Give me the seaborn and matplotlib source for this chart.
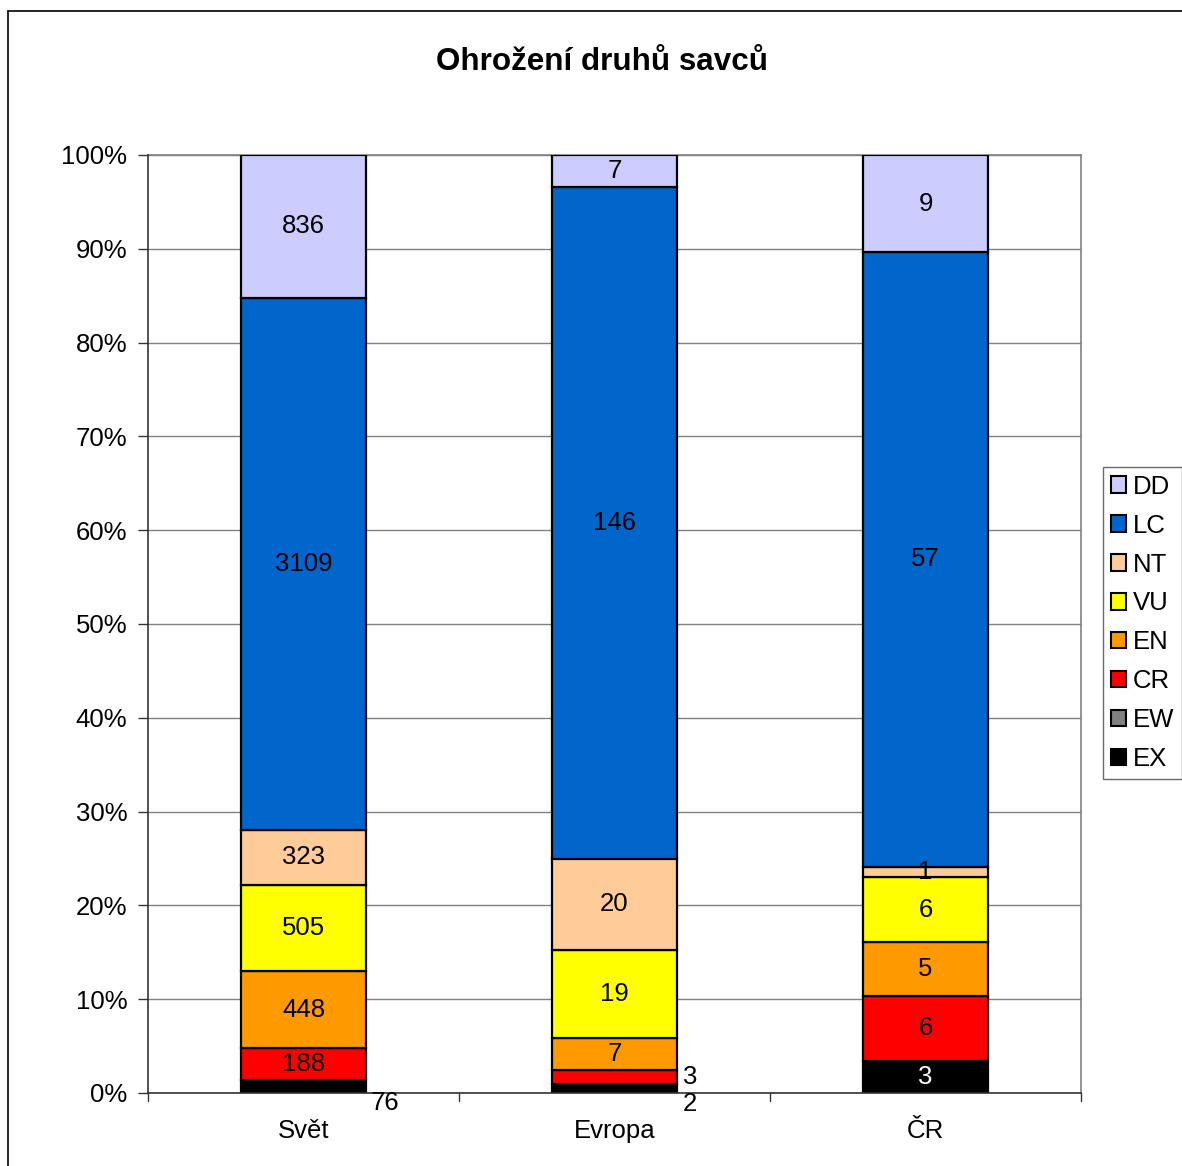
import matplotlib
matplotlib.use("Agg")
import matplotlib.pyplot as plt
from matplotlib.patches import Rectangle
from matplotlib.lines import Line2D
import seaborn as sns
import numpy as np
import pandas as pd

categories = ["Svět", "Evropa", "ČR"]
series_names = ["EX", "EW", "CR", "EN", "VU", "NT", "LC", "DD"]
EX = [76, 2, 3]
EW = [0, 0, 0]
CR = [188, 3, 6]
EN = [448, 7, 5]
VU = [505, 19, 6]
NT = [323, 20, 1]
LC = [3109, 146, 57]
DD = [836, 7, 9]
colors = {"EX": "#000000", "EW": "#808080", "CR": "#FF0000", "EN": "#FF9900",
          "VU": "#FFFF00", "NT": "#FFCC99", "LC": "#0066CC", "DD": "#CCCCFF"}
title = "Ohrožení druhů savců"
yticks = [0, 0.1, 0.2, 0.3, 0.4, 0.5, 0.6, 0.7, 0.8, 0.9, 1.0]

sns.set_theme(style="white")
plt.rcParams['font.family'] = ['Liberation Sans', 'DejaVu Sans']
plt.rcParams['text.color'] = 'black'
plt.rcParams['xtick.color'] = 'black'
plt.rcParams['ytick.color'] = 'black'

FS = 18.5

values = {"EX": EX, "EW": EW, "CR": CR, "EN": EN, "VU": VU, "NT": NT, "LC": LC, "DD": DD}
totals = np.sum([values[s] for s in series_names], axis=0)

fig = plt.figure(figsize=(11.82, 11.66), dpi=100)
ax = fig.add_axes([148/1182, 1 - 1093/1166, (1081-148)/1182, (1093-155)/1166])

bottom = np.zeros(len(categories))
for s in series_names:
    frac = np.array(values[s]) / totals
    df = pd.DataFrame({"cat": categories, "val": frac})
    sns.barplot(data=df, x="cat", y="val", ax=ax, color=colors[s], width=0.4,
                bottom=bottom, edgecolor="black", linewidth=1.6, saturation=1,
                zorder=3, errorbar=None)
    for i, v in enumerate(values[s]):
        if v == 0:
            continue
        yc = bottom[i] + frac[i] / 2
        txt_color = "white" if s == "EX" else "black"
        x = i
        if (s == "EX" and categories[i] in ("Svět", "Evropa")) or (s == "CR" and categories[i] == "Evropa"):
            x = i + 0.262 if categories[i] == "Svět" else i + 0.243
            yc = -0.011 if s == "EX" else 0.017
            if categories[i] == "Evropa" and s == "EX":
                yc = -0.012
            txt_color = "black"
        ax.text(x, yc, str(v), ha="center", va="center", fontsize=FS,
                color=txt_color, zorder=5, clip_on=False)
    bottom = bottom + frac

ax.set_xlim(-0.5, 2.5)
ax.set_ylim(0, 1)
ax.set_yticks(yticks)
ax.set_yticklabels([f"{int(round(t*100))}%" for t in yticks], fontsize=FS)
ax.set_xticks([0, 1, 2])
ax.set_xticklabels(categories, fontsize=FS)
ax.tick_params(axis="x", length=0, pad=19)
ax.tick_params(axis="y", length=7, width=1, color="#333333", left=True, direction="out", pad=8)
ax.set_xlabel("")
ax.set_ylabel("")
for b in [-0.5, 0.5, 1.5, 2.5]:
    ax.plot([b, b], [0, -0.008], color="#333333", lw=1, clip_on=False, zorder=4)
ax.yaxis.grid(True, color="#808080", linewidth=1, zorder=0)
ax.set_axisbelow(True)
for side in ["top", "right"]:
    ax.spines[side].set_visible(True)
    ax.spines[side].set_color("#808080")
    ax.spines[side].set_linewidth(1.2)
for side in ["left", "bottom"]:
    ax.spines[side].set_color("#333333")
    ax.spines[side].set_linewidth(1.2)
    ax.spines[side].set_zorder(4)

fig.text(602/1182, 1 - 62/1166, title, ha="center", va="center", fontsize=22.6, fontweight="bold")

# outer chart border
fig.add_artist(Line2D([8/1182, 8/1182], [0, 1 - 11/1166], transform=fig.transFigure, color="black", lw=1.2))
fig.add_artist(Line2D([8/1182, 1], [1 - 11/1166, 1 - 11/1166], transform=fig.transFigure, color="black", lw=1.2))

handles = [Rectangle((0, 0), 1, 1, facecolor=colors[s], edgecolor="black", linewidth=1.5)
           for s in series_names[::-1]]
leg = fig.legend(handles, series_names[::-1], loc="upper left",
                 bbox_to_anchor=(1103/1182, 1 - 467/1166), fontsize=FS,
                 frameon=True, fancybox=False, edgecolor="#444444",
                 handlelength=0.6, handleheight=0.6, handletextpad=0.25,
                 labelspacing=0.58, borderpad=0.3, borderaxespad=0)
leg.get_frame().set_linewidth(1)

fig.savefig("out.png", dpi=100)
